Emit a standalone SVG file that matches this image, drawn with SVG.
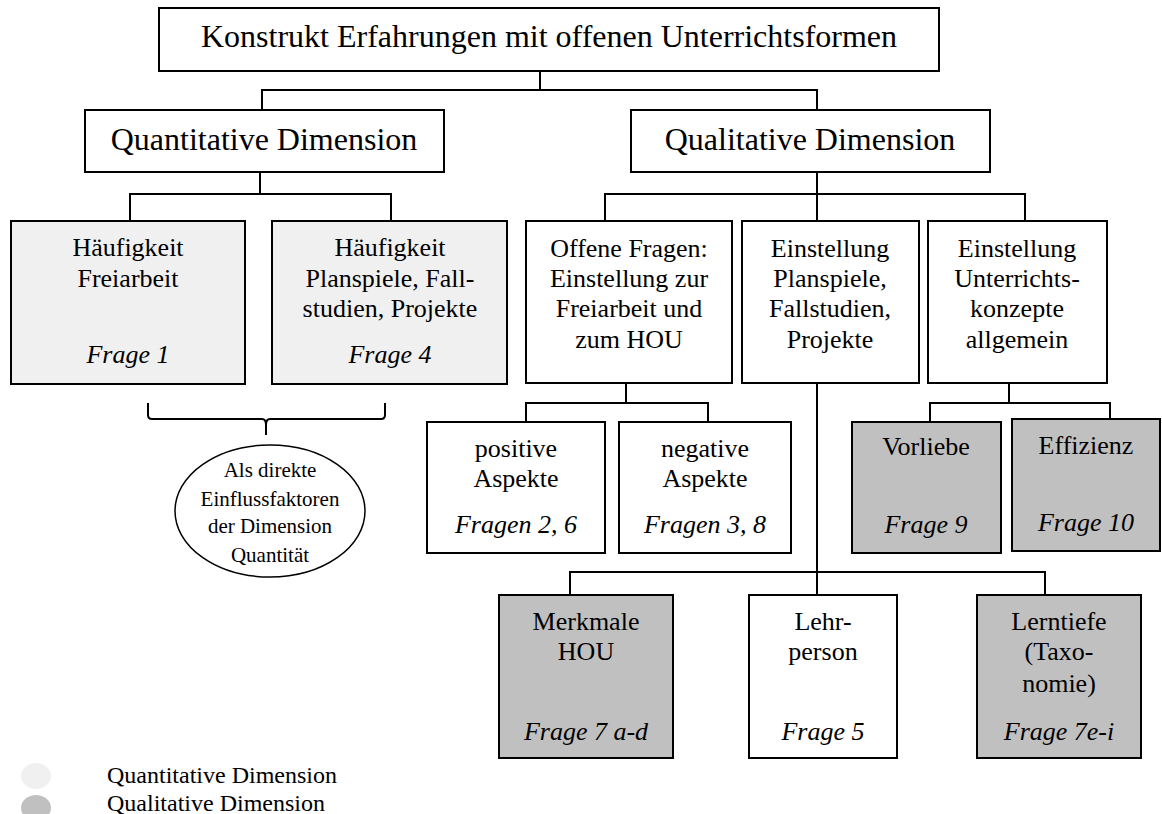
<svg xmlns="http://www.w3.org/2000/svg" width="1162" height="814" viewBox="0 0 1162 814">
<style>
text{font-family:"Liberation Serif","Times New Roman",serif;fill:#000;text-anchor:middle}
.big{font-size:32px}
.t{font-size:26px}
.i{font-size:26px;font-style:italic}
.s{font-size:21px}
.lg{font-size:24px;text-anchor:start}
.box{stroke:#000;stroke-width:2;fill:#fff}
.light{fill:#f0f0f0}
.dark{fill:#c0c0c0}
.conn{stroke:#000;stroke-width:2;fill:none}
</style>
<rect width="1162" height="814" fill="#fff"/>
<g id="connectors" class="conn">
<path d="M540 71V90M262 110V90H817V110"/>
<path d="M260 172V194M130 221V194H391V221"/>
<path d="M817 172V221M605 221V194H1025V221"/>
<path d="M626 383V403M526 422V403H708V422"/>
<path d="M1009 383V403M930 422V403H1110V420"/>
<path d="M817 383V595M570 595V572H1045V595"/>
<path d="M148 403V415Q148 419 152 419H262Q266 419 266 425V435M266 425Q266 419 270 419H381Q385 419 385 415V403"/>
</g>
<g id="n-root"><rect class="box" x="159" y="8" width="780" height="63"/><text class="big" x="549" y="47">Konstrukt Erfahrungen mit offenen Unterrichtsformen</text></g>
<g id="n-quant"><rect class="box" x="85" y="110" width="359" height="62"/><text class="big" x="264" y="150">Quantitative Dimension</text></g>
<g id="n-qual"><rect class="box" x="631" y="110" width="359" height="62"/><text class="big" x="810" y="150">Qualitative Dimension</text></g>
<g id="n-haeuf-frei"><rect class="box light" x="11" y="221" width="234" height="163"/><text class="t" x="128" y="256">Häufigkeit</text><text class="t" x="128" y="287">Freiarbeit</text><text class="i" x="128" y="363">Frage 1</text></g>
<g id="n-haeuf-plan"><rect class="box light" x="272" y="221" width="235" height="163"/><text class="t" x="390" y="256">Häufigkeit</text><text class="t" x="390" y="287">Planspiele, Fall-</text><text class="t" x="390" y="317">studien, Projekte</text><text class="i" x="390" y="363">Frage 4</text></g>
<g id="n-offen"><rect class="box" x="526" y="221" width="206" height="162"/><text class="t" x="629" y="257">Offene Fragen:</text><text class="t" x="629" y="287">Einstellung zur</text><text class="t" x="629" y="317">Freiarbeit und</text><text class="t" x="629" y="348">zum HOU</text></g>
<g id="n-einst-plan"><rect class="box" x="742" y="221" width="177" height="162"/><text class="t" x="830" y="257">Einstellung</text><text class="t" x="830" y="287">Planspiele,</text><text class="t" x="830" y="317">Fallstudien,</text><text class="t" x="830" y="348">Projekte</text></g>
<g id="n-einst-unt"><rect class="box" x="928" y="221" width="179" height="162"/><text class="t" x="1017" y="257">Einstellung</text><text class="t" x="1017" y="287">Unterrichts-</text><text class="t" x="1017" y="317">konzepte</text><text class="t" x="1017" y="348">allgemein</text></g>
<g id="n-pos"><rect class="box" x="427" y="422" width="178" height="131"/><text class="t" x="516" y="457">positive</text><text class="t" x="516" y="487">Aspekte</text><text class="i" x="516" y="533">Fragen 2, 6</text></g>
<g id="n-neg"><rect class="box" x="619" y="422" width="172" height="131"/><text class="t" x="705" y="457">negative</text><text class="t" x="705" y="487">Aspekte</text><text class="i" x="705" y="533">Fragen 3, 8</text></g>
<g id="n-vorliebe"><rect class="box dark" x="852" y="422" width="149" height="131"/><text class="t" x="926" y="455">Vorliebe</text><text class="i" x="926" y="533">Frage 9</text></g>
<g id="n-effizienz"><rect class="box dark" x="1012" y="419" width="148" height="132"/><text class="t" x="1086" y="454">Effizienz</text><text class="i" x="1086" y="531">Frage 10</text></g>
<g id="n-merkmale"><rect class="box dark" x="499" y="595" width="174" height="163"/><text class="t" x="586" y="630">Merkmale</text><text class="t" x="586" y="660">HOU</text><text class="i" x="586" y="740">Frage 7 a-d</text></g>
<g id="n-lehr"><rect class="box" x="749" y="595" width="148" height="163"/><text class="t" x="823" y="630">Lehr-</text><text class="t" x="823" y="660">person</text><text class="i" x="823" y="740">Frage 5</text></g>
<g id="n-lerntiefe"><rect class="box dark" x="977" y="595" width="164" height="163"/><text class="t" x="1059" y="630">Lerntiefe</text><text class="t" x="1059" y="660">(Taxo-</text><text class="t" x="1059" y="692">nomie)</text><text class="i" x="1059" y="740">Frage 7e-i</text></g>
<g id="n-einfluss"><ellipse cx="270" cy="511" rx="95" ry="66" fill="#fff" stroke="#000" stroke-width="1.5"/><text class="s" x="270" y="477">Als direkte</text><text class="s" x="270" y="506">Einflussfaktoren</text><text class="s" x="270" y="533">der Dimension</text><text class="s" x="270" y="562">Quantität</text></g>
<g id="legend"><ellipse cx="36" cy="776" rx="15" ry="13" fill="#f0f0f0"/><ellipse cx="36" cy="808" rx="15" ry="13" fill="#c0c0c0"/><text class="lg" x="107" y="783">Quantitative Dimension</text><text class="lg" x="107" y="811">Qualitative Dimension</text></g>
</svg>
